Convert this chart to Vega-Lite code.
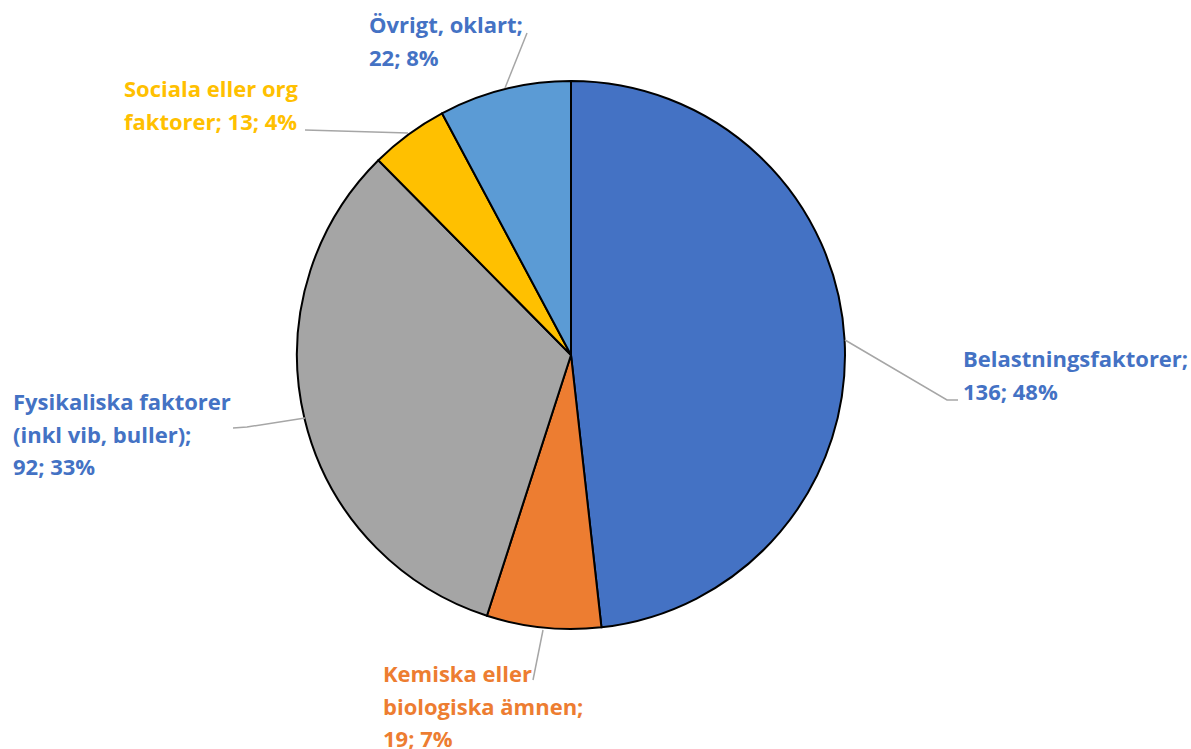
{
  "$schema": "https://vega.github.io/schema/vega-lite/v6.json",
  "width": 1142,
  "height": 710,
  "autosize": {"type": "none"},
  "padding": {"left": 0, "top": 0, "right": 49, "bottom": 39},
  "background": "white",
  "config": {"view": {"stroke": null}},
  "datasets": {
    "slices": [
      {"idx": 1, "category": "Belastningsfaktorer", "value": 136},
      {"idx": 2, "category": "Kemiska eller biologiska ämnen", "value": 19},
      {"idx": 3, "category": "Fysikaliska faktorer (inkl vib, buller)", "value": 92},
      {"idx": 4, "category": "Sociala eller org faktorer", "value": 13},
      {"idx": 5, "category": "Övrigt, oklart", "value": 22}
    ],
    "labels": [
      {"category": "Belastningsfaktorer", "lx": 392, "ly": 12, "label": "Belastningsfaktorer;\n136; 48%"},
      {"category": "Kemiska eller biologiska ämnen", "lx": -188, "ly": 327, "label": "Kemiska eller\nbiologiska ämnen;\n19; 7%"},
      {"category": "Fysikaliska faktorer (inkl vib, buller)", "lx": -558, "ly": 55, "label": "Fysikaliska faktorer\n(inkl vib, buller);\n92; 33%"},
      {"category": "Sociala eller org faktorer", "lx": -447, "ly": -258, "label": "Sociala eller org\nfaktorer; 13; 4%"},
      {"category": "Övrigt, oklart", "lx": -202, "ly": -322, "label": "Övrigt, oklart;\n22; 8%"}
    ],
    "leaders": [
      {"category": "Belastningsfaktorer", "seq": 1, "px": 274, "py": -15},
      {"category": "Belastningsfaktorer", "seq": 2, "px": 376, "py": 45},
      {"category": "Belastningsfaktorer", "seq": 3, "px": 387, "py": 45},
      {"category": "Kemiska eller biologiska ämnen", "seq": 1, "px": -28, "py": 275},
      {"category": "Kemiska eller biologiska ämnen", "seq": 2, "px": -38, "py": 325},
      {"category": "Fysikaliska faktorer (inkl vib, buller)", "seq": 1, "px": -266, "py": 63},
      {"category": "Fysikaliska faktorer (inkl vib, buller)", "seq": 2, "px": -324, "py": 72},
      {"category": "Fysikaliska faktorer (inkl vib, buller)", "seq": 3, "px": -338, "py": 73},
      {"category": "Sociala eller org faktorer", "seq": 1, "px": -163, "py": -222},
      {"category": "Sociala eller org faktorer", "seq": 2, "px": -266, "py": -225},
      {"category": "Övrigt, oklart", "seq": 1, "px": -66, "py": -267},
      {"category": "Övrigt, oklart", "seq": 2, "px": -44, "py": -322}
    ]
  },
  "layer": [
    {
      "data": {"name": "slices"},
      "mark": {"type": "arc", "outerRadius": 274, "stroke": "black", "strokeWidth": 2, "strokeJoin": "round"},
      "encoding": {
        "theta": {"field": "value", "type": "quantitative", "stack": true},
        "order": {"field": "idx", "type": "quantitative"},
        "color": {
          "field": "category",
          "type": "nominal",
          "legend": null,
          "scale": {
            "domain": ["Belastningsfaktorer", "Kemiska eller biologiska ämnen", "Fysikaliska faktorer (inkl vib, buller)", "Sociala eller org faktorer", "Övrigt, oklart"],
            "range": ["#4472C4", "#ED7D31", "#A5A5A5", "#FFC000", "#5B9BD5"]
          }
        }
      }
    },
    {
      "data": {"name": "leaders"},
      "mark": {"type": "line", "color": "#A6A6A6", "strokeWidth": 1.5},
      "encoding": {
        "x": {"field": "px", "type": "quantitative", "axis": null, "scale": {"domain": [-571, 571], "nice": false, "zero": false}},
        "y": {"field": "py", "type": "quantitative", "axis": null, "scale": {"domain": [-355, 355], "nice": false, "zero": false, "reverse": true}},
        "detail": {"field": "category", "type": "nominal"},
        "order": {"field": "seq", "type": "quantitative"}
      }
    },
    {
      "data": {"name": "labels"},
      "mark": {"type": "text", "align": "left", "baseline": "alphabetic", "font": "Open Sans", "fontWeight": "bold", "fontSize": 22, "lineBreak": "\n", "lineHeight": 32.5},
      "encoding": {
        "x": {"field": "lx", "type": "quantitative", "axis": null},
        "y": {"field": "ly", "type": "quantitative", "axis": null},
        "text": {"field": "label"},
        "color": {
          "field": "category",
          "type": "nominal",
          "legend": null,
          "scale": {
            "domain": ["Belastningsfaktorer", "Kemiska eller biologiska ämnen", "Fysikaliska faktorer (inkl vib, buller)", "Sociala eller org faktorer", "Övrigt, oklart"],
            "range": ["#4472C4", "#ED7D31", "#4472C4", "#FFC000", "#4472C4"]
          }
        }
      }
    }
  ],
  "resolve": {"scale": {"color": "independent"}}
}
